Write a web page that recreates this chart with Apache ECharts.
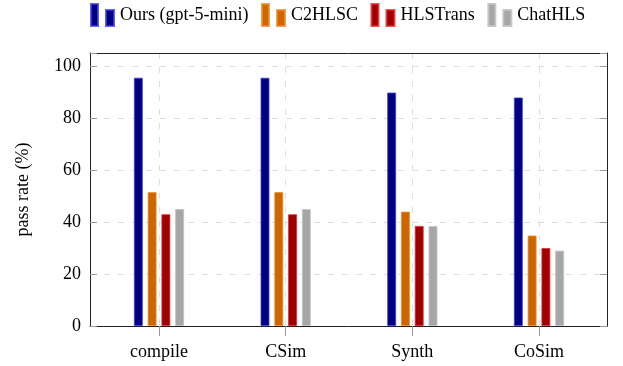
<!DOCTYPE html>
<html>
<head>
<meta charset="utf-8">
<script src="https://cdn.jsdelivr.net/npm/echarts@6/dist/echarts.min.js"></script>
<style>
html,body{margin:0;padding:0;background:#fff;}
#c{width:623px;height:366px;}
</style>
</head>
<body>
<div id="c"></div>
<script>
var categories = ['compile', 'CSim', 'Synth', 'CoSim'];
var seriesNames = ['Ours (gpt-5-mini)', 'C2HLSC', 'HLSTrans', 'ChatHLS'];
var oursValues = [95.5, 95.5, 89.8, 87.9];
var c2hlscValues = [51.5, 51.5, 44.0, 34.8];
var hlstransValues = [43.0, 43.0, 38.5, 30.0];
var chathlsValues = [45.0, 45.0, 38.5, 29.0];
var yTicks = [0, 20, 40, 60, 80, 100];

var FONT = 'Liberation Serif';
var FS = 18;
var fills = ['#000080', '#cc6600', '#9c0000', '#a6a6a6'];
var borders = ['rgba(60,60,230,0.8)', 'rgba(240,140,40,0.8)', 'rgba(230,40,40,0.8)', 'rgba(195,195,195,0.9)'];
var values = [oursValues, c2hlscValues, hlstransValues, chathlsValues];

var chart = echarts.init(document.getElementById('c'), null, {renderer: 'canvas'});

var series = seriesNames.map(function (name, i) {
  return {
    name: name,
    type: 'bar',
    xAxisIndex: 1,
    yAxisIndex: 2,
    data: values[i],
    barWidth: 9,
    barGap: '53%',
    clip: false,
    itemStyle: {color: fills[i], borderColor: borders[i], borderWidth: 1},
    emphasis: {disabled: true},
    animation: false
  };
});

var frameLine = {show: true, onZero: false, lineStyle: {color: '#222', width: 1}};

var option = {
  animation: false,
  legend: {
    top: 3,
    left: 90,
    padding: 0,
    itemGap: 12.5,
    itemWidth: 23,
    itemHeight: 22,
    icon: 'path://M0,0h7v22h-7zM15,6h8v16h-8z',
    textStyle: {fontFamily: FONT, fontSize: FS, color: '#000', padding: [0, 0, 0, 1]},
    data: seriesNames
  },
  grid: [
    {left: 90, top: 53, width: 517, height: 273},
    {left: 159, top: 53, width: 380, height: 273}
  ],
  xAxis: [
    {type: 'value', gridIndex: 0, min: 0, max: 1, position: 'bottom',
      axisLine: frameLine, axisTick: {show: false}, axisLabel: {show: false}, splitLine: {show: false}},
    {
      type: 'category', gridIndex: 1, data: categories, boundaryGap: false,
      axisLine: {show: false},
      axisTick: {show: true, inside: false, length: 10, lineStyle: {color: '#999', width: 1}},
      axisLabel: {fontFamily: FONT, fontSize: FS, color: '#000', margin: 17},
      splitLine: {show: true, lineStyle: {color: '#dedede', width: 1, type: [6, 8]}}
    },
    {type: 'value', gridIndex: 0, min: 0, max: 1, position: 'top',
      axisLine: frameLine, axisTick: {show: false}, axisLabel: {show: false}, splitLine: {show: false}}
  ],
  yAxis: [
    {
      type: 'value', gridIndex: 0, min: 0, max: 105, interval: 20, position: 'left',
      name: 'pass rate (%)', nameLocation: 'middle', nameGap: 58, nameRotate: 90,
      nameTextStyle: {fontFamily: FONT, fontSize: FS, color: '#000'},
      axisLine: frameLine,
      axisTick: {show: true, inside: true, length: 7, lineStyle: {color: '#999'}},
      axisLabel: {fontFamily: FONT, fontSize: FS, color: '#000', margin: 9,
        customValues: yTicks},
      splitLine: {show: true, lineStyle: {color: '#dedede', width: 1, type: [6, 8]}}
    },
    {
      type: 'value', gridIndex: 0, min: 0, max: 105, interval: 20, position: 'right',
      axisLine: frameLine,
      axisTick: {show: true, inside: true, length: 7, lineStyle: {color: '#999'}},
      axisLabel: {show: false},
      splitLine: {show: false}
    },
    {type: 'value', gridIndex: 1, min: 0, max: 105, show: false}
  ],
  series: series
};
chart.setOption(option);
</script>
</body>
</html>
